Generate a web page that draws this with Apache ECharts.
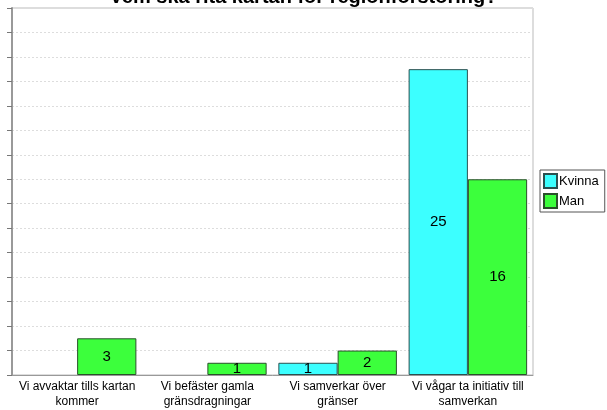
<!DOCTYPE html>
<html>
<head>
<meta charset="utf-8">
<script src="https://cdn.jsdelivr.net/npm/echarts@6/dist/echarts.min.js"></script>
<style>html,body{margin:0;padding:0;background:#fff}#c{width:607px;height:410px}</style>
</head>
<body>
<div id="c"></div>
<script>
const titleText = 'Vem ska rita kartan för regionförstoring?';
const categories = ['Vi avvaktar tills kartan\nkommer', 'Vi befäster gamla\ngränsdragningar', 'Vi samverkar över\ngränser', 'Vi vågar ta initiativ till\nsamverkan'];
const seriesNames = ['Kvinna', 'Man'];
const kvinna = [0, 0, 1, 25];
const man = [3, 1, 2, 16];
const yMin = 0, yMax = 30, yInterval = 2;

const chart = echarts.init(document.getElementById('c'), null, {renderer: 'canvas'});
const font = '"Liberation Sans", Arial, sans-serif';
const lbl = {
  show: true, position: 'inside', color: '#000', fontSize: 15, fontFamily: font
};
const toData = arr => arr.map(v => v === 0 ? null : v);
chart.setOption({
  animation: false,
  title: {
    text: titleText, left: 'center', top: -18,
    textStyle: {fontFamily: font, fontSize: 20, fontWeight: 'bold', color: '#000'}
  },
  legend: {
    orient: 'vertical', left: 540, top: 170,
    data: seriesNames,
    itemWidth: 13, itemHeight: 14, itemGap: 4,
    padding: [3, 6, 3, 3],
    borderColor: '#555', borderWidth: 1,
    textStyle: {fontFamily: font, fontSize: 13, color: '#000', padding: [0, 0, 0, -3]},
    icon: 'rect'
  },
  grid: {left: 12, right: 74, top: 8, bottom: 35, show: true, borderColor: '#bbb', borderWidth: 1},
  xAxis: {
    type: 'category', data: categories,
    axisLine: {lineStyle: {color: '#999', width: 1}},
    axisTick: {length: 5, lineStyle: {color: '#999'}},
    axisLabel: {fontFamily: font, fontSize: 12, color: '#000', interval: 0, margin: 4, lineHeight: 15}
  },
  yAxis: {
    type: 'value', min: yMin, max: yMax, interval: yInterval,
    axisLine: {show: true, lineStyle: {color: '#999', width: 2}},
    axisTick: {show: true, length: 5, lineStyle: {color: '#777'}},
    axisLabel: {show: false},
    splitLine: {lineStyle: {color: '#ddd', type: [2, 2]}}
  },
  series: [
    {name: seriesNames[0], type: 'bar', data: toData(kvinna), barGap: '0%', barCategoryGap: '9%',
     itemStyle: {color: '#3cffff', borderColor: '#2a5050', borderWidth: 1}, label: lbl},
    {name: seriesNames[1], type: 'bar', data: toData(man),
     itemStyle: {color: '#3cff3c', borderColor: '#2a502a', borderWidth: 1}, label: lbl}
  ]
});
</script>
</body>
</html>
